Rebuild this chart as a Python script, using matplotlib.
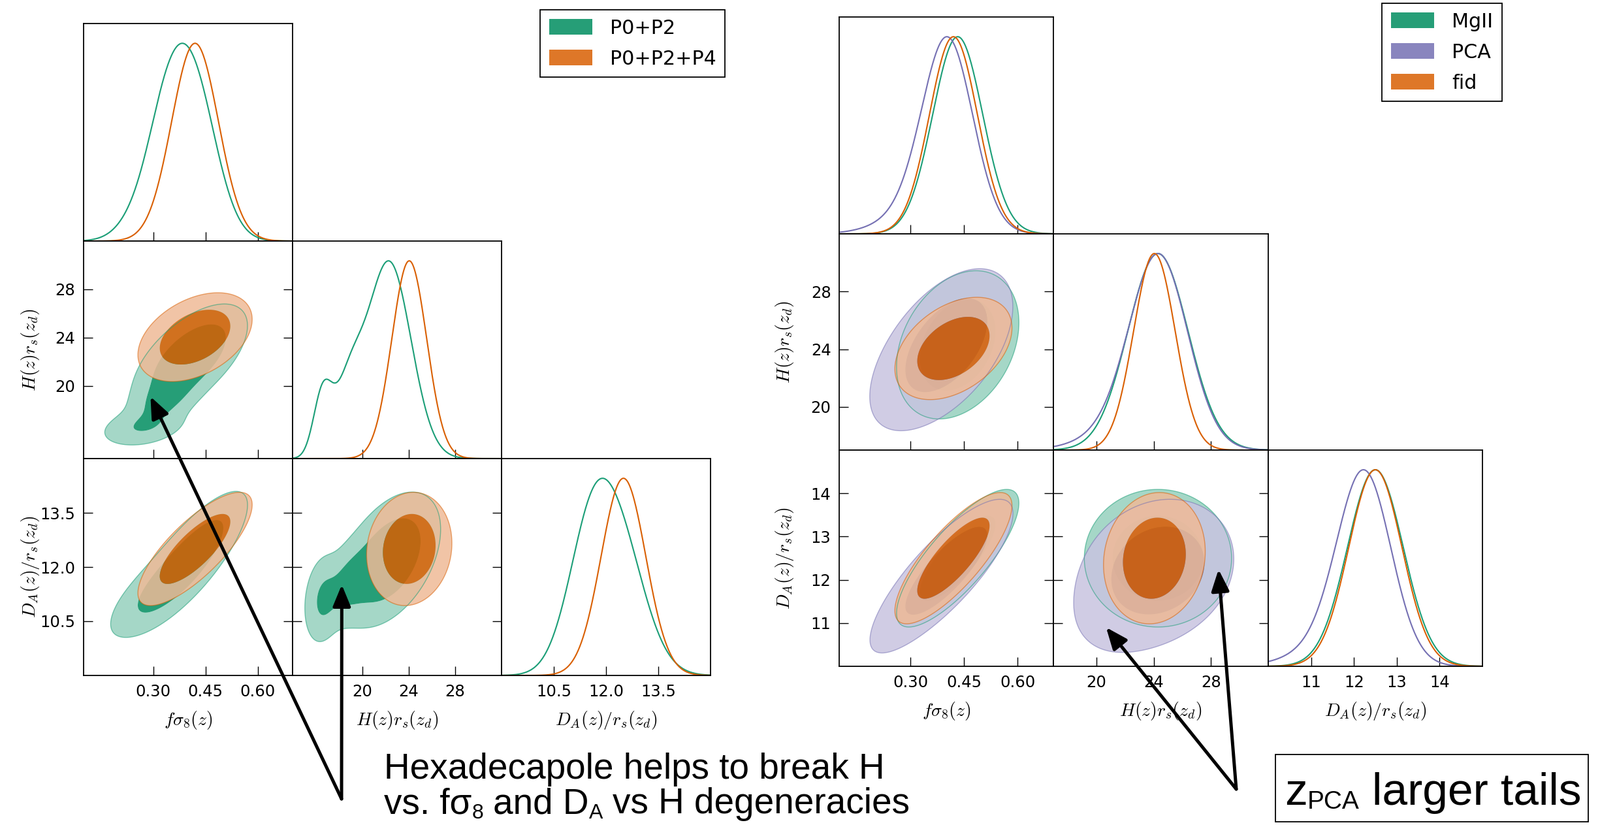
import numpy as np
import matplotlib
matplotlib.use('Agg')
import matplotlib.pyplot as plt
from matplotlib.patches import Patch, Rectangle, ConnectionPatch

plt.rcParams['font.family'] = ['DejaVu Sans']
plt.rcParams['mathtext.fontset'] = 'cm'

W, H = 2450, 1266
fig = plt.figure(figsize=(W / 100, H / 100), dpi=100)

# ------------------------------------------------------------------ data
param_labels = [r'$f\sigma_8(z)$', r'$H(z)r_s(z_d)$', r'$D_A(z)/r_s(z_d)$']

left_limits = [(0.1, 0.7), (14, 32), (9, 15)]
left_ticks = [[0.30, 0.45, 0.60], [20, 24, 28], [10.5, 12.0, 13.5]]
left_ticklabels = [['0.30', '0.45', '0.60'], ['20', '24', '28'], ['10.5', '12.0', '13.5']]

right_limits = [(0.1, 0.7), (17, 32), (10, 15)]
right_ticks = [[0.30, 0.45, 0.60], [20, 24, 28], [11, 12, 13, 14]]
right_ticklabels = [['0.30', '0.45', '0.60'], ['20', '24', '28'], ['11', '12', '13', '14']]

left_names = ['P0+P2', 'P0+P2+P4']
right_names = ['MgII', 'PCA', 'fid']

# Gaussian-mixture description of each posterior: weights, means (fs8, H, DA),
# sigmas, correlations (fs8-H, fs8-DA, H-DA)
p0p2_weights = [0.75, 0.15, 0.10]
p0p2_means = [[0.405, 22.3, 12.2], [0.33, 18.8, 11.55], [0.27, 16.6, 11.1]]
p0p2_sigmas = [[0.07, 1.9, 0.8], [0.05, 1.2, 0.55], [0.06, 0.8, 0.6]]
p0p2_corrs = [[0.6, 0.8, 0.45], [0.5, 0.75, 0.4], [0.3, 0.7, 0.2]]

p0p2p4_weights = [1.0]
p0p2p4_means = [[0.42, 24.05, 12.5]]
p0p2p4_sigmas = [[0.067, 1.5, 0.64]]
p0p2p4_corrs = [[0.4, 0.78, 0.1]]

mgii_weights = [1.0]
mgii_means = [[0.432, 24.3, 12.5]]
mgii_sigmas = [[0.07, 2.1, 0.65]]
mgii_corrs = [[0.3, 0.8, 0.0]]

pca_weights = [0.85, 0.15]
pca_means = [[0.405, 24.4, 12.25], [0.33, 22.5, 11.6]]
pca_sigmas = [[0.07, 2.0, 0.62], [0.1, 2.8, 0.9]]
pca_corrs = [[0.5, 0.8, 0.15], [0.5, 0.8, 0.3]]

fid_weights = [1.0]
fid_means = [[0.42, 24.05, 12.5]]
fid_sigmas = [[0.067, 1.45, 0.62]]
fid_corrs = [[0.4, 0.8, 0.1]]

contour_masses = [0.95, 0.68]

# ------------------------------------------------------------------ styles
C_GREEN, C_ORANGE, C_PURPLE = '#008d5f', '#d95f02', '#7570b3'
L_GREEN, L_ORANGE, L_PURPLE = '#95d1be', '#efba97', '#c8c4e0'
LINE_GREEN, LINE_ORANGE, LINE_PURPLE = '#1b9e77', '#d95f02', '#7570b3'
ALPHA = 0.85


def cov_matrix(sig, rho):
    R = np.eye(3)
    R[0, 1] = R[1, 0] = rho[0]
    R[0, 2] = R[2, 0] = rho[1]
    R[1, 2] = R[2, 1] = rho[2]
    s = np.array(sig, float)
    return R * np.outer(s, s)


def mix_1d(ser, k, x):
    w, m, s, r = ser
    out = np.zeros_like(x)
    for wi, mi, si in zip(w, m, s):
        out += wi / si[k] * np.exp(-0.5 * ((x - mi[k]) / si[k]) ** 2)
    return out


def mix_2d(ser, a, b, n=450):
    w, m, s, r = ser
    lo_a = min(mi[a] - 7 * si[a] for mi, si in zip(m, s))
    hi_a = max(mi[a] + 7 * si[a] for mi, si in zip(m, s))
    lo_b = min(mi[b] - 7 * si[b] for mi, si in zip(m, s))
    hi_b = max(mi[b] + 7 * si[b] for mi, si in zip(m, s))
    X, Y = np.meshgrid(np.linspace(lo_a, hi_a, n), np.linspace(lo_b, hi_b, n))
    Z = np.zeros_like(X)
    for wi, mi, si, ri in zip(w, m, s, r):
        C = cov_matrix(si, ri)
        sub = C[np.ix_([a, b], [a, b])]
        inv = np.linalg.inv(sub)
        dx, dy = X - mi[a], Y - mi[b]
        q = inv[0, 0] * dx ** 2 + 2 * inv[0, 1] * dx * dy + inv[1, 1] * dy ** 2
        Z += wi / np.sqrt(np.linalg.det(sub)) * np.exp(-0.5 * q)
    return X, Y, Z


def hpd_levels(Z, masses):
    zs = np.sort(Z.ravel())[::-1]
    cum = np.cumsum(zs) / zs.sum()
    return [zs[min(np.searchsorted(cum, f), len(zs) - 1)] for f in masses]


def add_panel(xe, ye, row, col):
    x0, x1 = xe[col], xe[col + 1]
    y0, y1 = ye[row], ye[row + 1]
    return fig.add_axes([x0 / W, 1 - y1 / H, (x1 - x0) / W, (y1 - y0) / H])


def triangle(xe, ye, limits, ticks, ticklabels, series, darks, lights, lines):
    axes = {}
    for i in range(3):
        for j in range(i + 1):
            ax = add_panel(xe, ye, i, j)
            axes[(i, j)] = ax
            ax.set_xlim(limits[j])
            if i == j:
                x = np.linspace(limits[j][0], limits[j][1], 800)
                for ser, lc in zip(series, lines):
                    p = mix_1d(ser, j, x)
                    ax.plot(x, p / p.max(), color=lc, lw=1.5)
                ax.set_ylim(0, 1.1)
                ax.set_yticks([])
                ax.tick_params(axis='x', direction='in', length=10, width=1.0,
                               labelsize=17.5, pad=9, top=False, bottom=True)
            else:
                for ser, dc, lc, ln in zip(series, darks, lights, lines):
                    X, Y, Z = mix_2d(ser, j, i)
                    l95, l68 = hpd_levels(Z, contour_masses)
                    ax.contourf(X, Y, Z, levels=[l95, l68, Z.max() * 1.01],
                                colors=[lc, dc], alpha=ALPHA, antialiased=True)
                    ax.contour(X, Y, Z, levels=[l95], colors=[ln],
                               linewidths=1.0, alpha=0.55)
                ax.set_ylim(limits[i])
                ax.set_yticks(ticks[i])
                if j == 0:
                    ax.set_yticklabels(ticklabels[i])
                    ax.set_ylabel(param_labels[i], fontsize=20)
                    ax.yaxis.set_label_coords(-0.255, 0.5)
                    ax.yaxis.label.set_va('center')
                else:
                    ax.set_yticklabels([])
                ax.tick_params(direction='in', length=10, width=1.0, labelsize=17.5,
                               pad=9, top=False, bottom=True, left=True, right=True)
            ax.set_xticks(ticks[j])
            if i == 2:
                ax.set_xticklabels(ticklabels[j])
                ax.set_xlabel(param_labels[j], fontsize=20)
                ax.xaxis.set_label_coords(0.5, -0.207)
                ax.xaxis.label.set_va('center')
            else:
                ax.set_xticklabels([])
            for sp in ax.spines.values():
                sp.set_linewidth(1.3)
    return axes


left_series = [
    (p0p2_weights, p0p2_means, p0p2_sigmas, p0p2_corrs),
    (p0p2p4_weights, p0p2p4_means, p0p2p4_sigmas, p0p2p4_corrs),
]
right_series = [
    (mgii_weights, mgii_means, mgii_sigmas, mgii_corrs),
    (pca_weights, pca_means, pca_sigmas, pca_corrs),
    (fid_weights, fid_means, fid_sigmas, fid_corrs),
]

axL = triangle([128, 448, 768, 1088], [36, 369, 702, 1034], left_limits, left_ticks,
               left_ticklabels, left_series, [C_GREEN, C_ORANGE], [L_GREEN, L_ORANGE],
               [LINE_GREEN, LINE_ORANGE])
axR = triangle([1285, 1613, 1942, 2270], [26, 358, 689, 1020], right_limits, right_ticks,
               right_ticklabels, right_series, [C_GREEN, C_PURPLE, C_ORANGE],
               [L_GREEN, L_PURPLE, L_ORANGE], [LINE_GREEN, LINE_PURPLE, LINE_ORANGE])

# ------------------------------------------------------------------ legends
def make_legend(names, colors, x_px, y_px):
    handles = [Patch(facecolor=c, alpha=ALPHA, edgecolor='none') for c in colors]
    leg = fig.legend(handles, names, loc='upper left',
                     bbox_to_anchor=(x_px / W, 1 - y_px / H), bbox_transform=fig.transFigure,
                     fontsize=21.7, frameon=True, fancybox=False, edgecolor='k',
                     framealpha=1, handlelength=2.2, handleheight=0.83,
                     handletextpad=0.9, labelspacing=0.6, borderpad=0.45,
                     borderaxespad=0)
    leg.get_frame().set_linewidth(1.3)
    return leg


make_legend(left_names, [C_GREEN, C_ORANGE], 827, 15)
make_legend(right_names, [C_GREEN, C_PURPLE, C_ORANGE], 2116, 5)

# ------------------------------------------------------------------ annotations
ANN_FONT = 'Liberation Sans'
renderer = fig.canvas.get_renderer()


def text_width(s, size):
    t = fig.text(0, 0, s, fontsize=size, family=ANN_FONT)
    w = t.get_window_extent(renderer).width
    t.remove()
    return w


def runs_text(x_px, base_px, runs):
    x = x_px
    for s, size, dy in runs:
        n_lead = len(s) - len(s.lstrip(' '))
        if n_lead:
            sp = text_width('a a', size) - text_width('aa', size)
            x += n_lead * sp
        s = s.strip(' ')
        t = fig.text(x / W, (H - base_px + dy) / H, s, fontsize=size, family=ANN_FONT,
                     va='baseline', ha='left')
        x += t.get_window_extent(renderer).width


runs_text(588, 1192, [('Hexadecapole helps to break H', 39.5, 0)])
runs_text(588, 1245, [('vs. fσ', 39.5, 0), ('8', 23, -8), (' and D', 39.5, 0), ('A', 23, -8),
                      (' vs H degeneracies', 39.5, 0)])
runs_text(1967, 1232, [('z', 50, 0), ('PCA', 28, -6), (' larger tails', 50, 0)])
fig.add_artist(Rectangle((1953 / W, 1 - 1258 / H), (2432 - 1953) / W, (1258 - 1155) / H,
                         transform=fig.transFigure, fill=False, lw=1.3, ec='k'))


def arrow(start_px, ax, tip):
    con = ConnectionPatch(xyA=(start_px[0], H - start_px[1]), coordsA='figure pixels',
                          xyB=tip, coordsB='data', axesB=ax,
                          arrowstyle='-|>,head_length=0.8,head_width=0.33',
                          mutation_scale=25, lw=3.6, color='k', shrinkA=0, shrinkB=0)
    con.set_zorder(10)
    fig.add_artist(con)


arrow((523, 1223), axL[(1, 0)], (0.292, 19.13))
arrow((523, 1223), axL[(2, 1)], (18.24, 11.51))
arrow((1893, 1208), axR[(2, 1)], (20.68, 10.9))
arrow((1893, 1208), axR[(2, 1)], (28.53, 12.24))

fig.savefig('out.png', dpi=100)
